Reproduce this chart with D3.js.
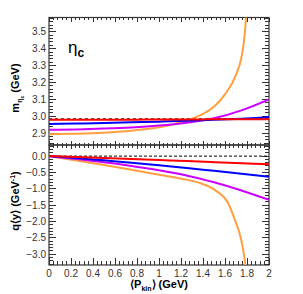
<!DOCTYPE html>
<html>
<head>
<meta charset="utf-8">
<script src="https://cdn.jsdelivr.net/npm/d3@7"></script>
<style>
  body { margin: 0; background: #fff; }
  text { font-family: "Liberation Sans", Arial, sans-serif; }
</style>
</head>
<body>
<script>
// ---------------- data ----------------
var pkin = [0, 0.25, 0.5, 0.75, 1.0, 1.25, 1.5, 1.75, 2.0];
var massRed     = [2.980, 2.980, 2.980, 2.980, 2.981, 2.981, 2.982, 2.982, 2.983];
var massBlue    = [2.955, 2.957, 2.960, 2.964, 2.968, 2.973, 2.979, 2.986, 2.994];
var massMagenta = [2.920, 2.922, 2.927, 2.934, 2.945, 2.962, 2.988, 3.035, 3.100];
var pkinOrangeM = [0, 0.25, 0.5, 0.75, 1.0, 1.25, 1.4, 1.5, 1.6, 1.7, 1.75, 1.78, 1.795];
var massOrange  = [2.894, 2.897, 2.903, 2.915, 2.935, 2.975, 3.015, 3.057, 3.13, 3.245, 3.35, 3.49, 3.62];

var qyRed     = [0, -0.03, -0.06, -0.09, -0.12, -0.15, -0.185, -0.22, -0.25];
var qyBlue    = [0, -0.06, -0.13, -0.20, -0.28, -0.36, -0.45, -0.54, -0.63];
var qyMagenta = [0, -0.09, -0.19, -0.30, -0.43, -0.59, -0.80, -1.05, -1.34];
var pkinOrangeQ = [0, 0.25, 0.5, 0.75, 1.0, 1.2, 1.37, 1.51, 1.63, 1.69, 1.74, 1.77, 1.795];
var qyOrange    = [0, -0.135, -0.275, -0.42, -0.57, -0.69, -0.82, -1.04, -1.45, -1.95, -2.46, -2.96, -3.6];

var mEtaC = 2.984;
var xTicks = [0, 0.2, 0.4, 0.6, 0.8, 1, 1.2, 1.4, 1.6, 1.8, 2];
var massTicks = [2.9, 3.0, 3.1, 3.2, 3.3, 3.4, 3.5];
var qyTicks = [0.0, -0.5, -1.0, -1.5, -2.0, -2.5, -3.0];

var colors = { red: "#ff0000", blue: "#0000ff", magenta: "#cc00ff", orange: "#ffa040" };

// ---------------- layout ----------------
var W = 303, H = 294;
var L = 49, R = 269, T = 17.5, M = 145, B = 265;

var svg = d3.select("body").append("svg").attr("width", W).attr("height", H);

var x = d3.scaleLinear().domain([0, 2]).range([L, R]);
var yTop = d3.scaleLinear().domain([2.83, 3.585]).range([M, T]);
var yBot = d3.scaleLinear().domain([-3.33, 0.34]).range([B, M]);

// clip paths
var defs = svg.append("defs");
defs.append("clipPath").attr("id", "clipTop").append("rect")
  .attr("x", L).attr("y", T).attr("width", R - L).attr("height", M - T);
defs.append("clipPath").attr("id", "clipBot").append("rect")
  .attr("x", L).attr("y", M).attr("width", R - L).attr("height", B - M);

function drawTicks(g, scale, majors, minorStep, orient, pos, bigLen, smallLen) {
  var dom = scale.domain();
  var lo = Math.min(dom[0], dom[1]), hi = Math.max(dom[0], dom[1]);
  var minors = d3.range(Math.ceil(lo / minorStep - 1e-6) * minorStep, hi + 1e-9, minorStep);
  function tick(v, len) {
    var p = scale(v);
    if (orient === "left") g.append("line").attr("x1", pos).attr("x2", pos + len).attr("y1", p).attr("y2", p);
    if (orient === "right") g.append("line").attr("x1", pos).attr("x2", pos - len).attr("y1", p).attr("y2", p);
    if (orient === "bottom") g.append("line").attr("x1", p).attr("x2", p).attr("y1", pos).attr("y2", pos - len);
    if (orient === "top") g.append("line").attr("x1", p).attr("x2", p).attr("y1", pos).attr("y2", pos + len);
  }
  minors.forEach(function(v) { tick(v, smallLen); });
  majors.forEach(function(v) { tick(v, bigLen); });
}

var tg = svg.append("g").attr("stroke", "#333").attr("stroke-width", 1).attr("shape-rendering", "crispEdges");

// top panel ticks
drawTicks(tg, yTop, massTicks, 0.02, "left", L, 7, 4);
drawTicks(tg, yTop, massTicks, 0.02, "right", R, 7, 4);
drawTicks(tg, x, xTicks, 0.04, "top", T, 4, 2.5);
drawTicks(tg, x, xTicks, 0.04, "bottom", M, 4, 2.5);
// bottom panel ticks
drawTicks(tg, yBot, qyTicks, 0.1, "left", L, 7, 4);
drawTicks(tg, yBot, qyTicks, 0.1, "right", R, 7, 4);
drawTicks(tg, x, xTicks, 0.04, "top", M, 4, 2.5);
drawTicks(tg, x, xTicks, 0.04, "bottom", B, 7, 4);

// frames
svg.append("rect").attr("x", L).attr("y", T).attr("width", R - L).attr("height", M - T)
  .attr("fill", "none").attr("stroke", "#333").attr("stroke-width", 1.2);
svg.append("rect").attr("x", L).attr("y", M).attr("width", R - L).attr("height", B - M)
  .attr("fill", "none").attr("stroke", "#333").attr("stroke-width", 1.2);

// tick labels
var fmt1 = d3.format(".1f");
svg.append("g").selectAll("text").data(massTicks).enter().append("text")
  .attr("x", L - 3).attr("y", function(d) { return yTop(d) + 3.5; })
  .attr("text-anchor", "end").attr("font-size", 10).attr("fill", "#333")
  .text(function(d) { return fmt1(d); });
svg.append("g").selectAll("text").data(qyTicks).enter().append("text")
  .attr("x", L - 3).attr("y", function(d) { return yBot(d) + 3.5; })
  .attr("text-anchor", "end").attr("font-size", 10).attr("fill", "#333")
  .text(function(d) { return d === 0 ? "0.0" : fmt1(d); });
svg.append("g").selectAll("text").data(xTicks).enter().append("text")
  .attr("x", function(d) { return x(d); }).attr("y", B + 12)
  .attr("text-anchor", "middle").attr("font-size", 10).attr("fill", "#333")
  .text(function(d) { return d3.format("~g")(d); });

// reference dashed lines
svg.append("line").attr("x1", L).attr("x2", R).attr("y1", yTop(mEtaC)).attr("y2", yTop(mEtaC))
  .attr("stroke", "#555").attr("stroke-width", 2).attr("stroke-dasharray", "3,3");
svg.append("line").attr("x1", L).attr("x2", R).attr("y1", yBot(0)).attr("y2", yBot(0))
  .attr("stroke", "#000").attr("stroke-width", 1).attr("stroke-dasharray", "3,2");

// curves
function series(xs, ys) { return xs.map(function(v, i) { return [v, ys[i]]; }); }
var lineTop = d3.line().x(function(d) { return x(d[0]); }).y(function(d) { return yTop(d[1]); }).curve(d3.curveMonotoneX);
var lineBot = d3.line().x(function(d) { return x(d[0]); }).y(function(d) { return yBot(d[1]); }).curve(d3.curveMonotoneX);

var topSeries = [
  [series(pkinOrangeM, massOrange), colors.orange],
  [series(pkin, massMagenta), colors.magenta],
  [series(pkin, massBlue), colors.blue],
  [series(pkin, massRed), colors.red]
];
var botSeries = [
  [series(pkinOrangeQ, qyOrange), colors.orange],
  [series(pkin, qyMagenta), colors.magenta],
  [series(pkin, qyBlue), colors.blue],
  [series(pkin, qyRed), colors.red]
];
var gTop = svg.append("g").attr("clip-path", "url(#clipTop)");
topSeries.forEach(function(s) {
  gTop.append("path").attr("d", lineTop(s[0])).attr("fill", "none").attr("stroke", s[1]).attr("stroke-width", 2);
});
var gBot = svg.append("g").attr("clip-path", "url(#clipBot)");
botSeries.forEach(function(s) {
  gBot.append("path").attr("d", lineBot(s[0])).attr("fill", "none").attr("stroke", s[1]).attr("stroke-width", 2);
});

// eta_c label
var lab = svg.append("text").attr("x", 68).attr("y", 53).attr("font-size", 17).attr("fill", "#000");
lab.append("tspan").text("η");
lab.append("tspan").attr("font-size", 12).attr("font-weight", "bold").attr("dy", 4).text("c");

// axis titles
var yl1 = svg.append("text").attr("transform", "translate(19,88) rotate(-90)")
  .attr("text-anchor", "middle").attr("font-size", 11).attr("font-weight", "bold");
yl1.append("tspan").text("m");
yl1.append("tspan").attr("font-size", 7).attr("dy", 3).text("η");
yl1.append("tspan").attr("font-size", 5).attr("dy", 1.5).text("c");
yl1.append("tspan").attr("dy", -4.5).text(" (GeV)");

var yl2 = svg.append("text").attr("transform", "translate(19,201) rotate(-90)")
  .attr("text-anchor", "middle").attr("font-size", 11).attr("font-weight", "bold");
yl2.append("tspan").text("q⟨y⟩ (GeV");
yl2.append("tspan").attr("font-size", 7).attr("dy", -4).text("-1");
yl2.append("tspan").attr("dy", 4).text(")");

var xl = svg.append("text").attr("x", 159).attr("y", 288)
  .attr("text-anchor", "middle").attr("font-size", 11).attr("font-weight", "bold");
xl.append("tspan").text("⟨P");
xl.append("tspan").attr("font-size", 7).attr("dy", 3).text("kin");
xl.append("tspan").attr("dy", -3).text("⟩ (GeV)");
</script>
</body>
</html>
